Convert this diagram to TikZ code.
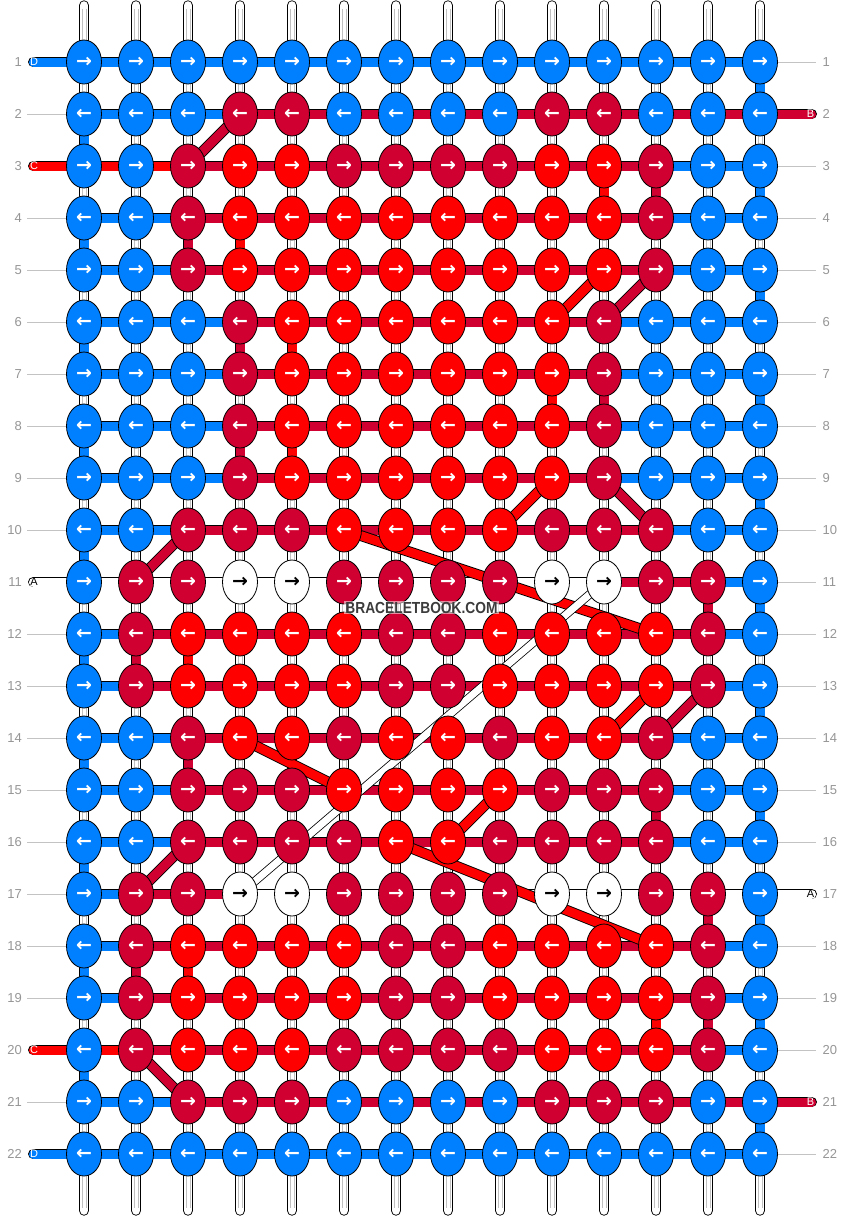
\documentclass[tikz,border=0pt]{standalone}
\usepackage{fontspec}
\setmainfont{Liberation Sans}
\newfontfamily\arrowfont{DejaVu Sans}
\usetikzlibrary{shapes.geometric}
\definecolor{colB}{RGB}{0,128,255}
\definecolor{colR}{RGB}{255,0,0}
\definecolor{colC}{RGB}{208,0,48}
\definecolor{colW}{RGB}{255,255,255}
\colorlet{colBtxt}{white}
\colorlet{colRtxt}{white}
\colorlet{colCtxt}{white}
\colorlet{colWtxt}{black}
\definecolor{lblgray}{RGB}{150,150,150}
\definecolor{linegray}{RGB}{195,195,195}
\definecolor{wmtext}{RGB}{60,60,60}
\pgfdeclarelayer{paper}
\pgfdeclarelayer{bg}
\pgfdeclarelayer{mid}
\pgfsetlayers{paper,bg,mid,main}
\newcommand\rarr{{\arrowfont\bfseries\fontsize{19}{19}\selectfont →}}
\newcommand\larr{{\arrowfont\bfseries\fontsize{19}{19}\selectfont ←}}
\tikzset{
  knot/.style={ellipse, draw=black, line width=0.8pt, fill=#1, minimum width=35pt, minimum height=44pt, inner sep=0pt},
  seg/.style={draw=black, line width=0.9pt, double=#1, double distance=9pt},
  thinseg/.style={draw=black, line width=0.8pt, double=#1, double distance=7pt},
  stub/.style={seg=#1, line cap=round},
  tube/.style={draw=black, line width=0.9pt, double=white, double distance=8.6pt, line cap=round},
  tubeline/.style={draw=black!25, line width=0.6pt},
  grayline/.style={draw=linegray, line width=0.9pt},
  rowlbl/.style={text=lblgray, font=\fontsize{13}{13}\selectfont, inner sep=0pt},
  stubtxt/.style={font=\fontsize{11}{11}\selectfont, inner sep=0pt},
  wm/.style={fill=white, fill opacity=0.55, text opacity=1, text=wmtext, font=\bfseries\fontsize{16}{16}\selectfont, inner sep=1.2pt, xscale=0.86}
}
\begin{document}
\begin{tikzpicture}[x=1pt,y=-1pt]
\useasboundingbox (0,0) rectangle (844,1216);
\begin{pgfonlayer}{paper}
\fill[white] (0,0) rectangle (844,1216);
\end{pgfonlayer}
% knots
\foreach \row [count=\r] in {%
{B,B,B,B,B,B,B,B,B,B,B,B,B,B},%
{B,B,B,C,C,B,B,B,B,C,C,B,B,B},%
{B,B,C,R,R,C,C,C,C,R,R,C,B,B},%
{B,B,C,R,R,R,R,R,R,R,R,C,B,B},%
{B,B,C,R,R,R,R,R,R,R,R,C,B,B},%
{B,B,B,C,R,R,R,R,R,R,C,B,B,B},%
{B,B,B,C,R,R,R,R,R,R,C,B,B,B},%
{B,B,B,C,R,R,R,R,R,R,C,B,B,B},%
{B,B,B,C,R,R,R,R,R,R,C,B,B,B},%
{B,B,C,C,C,R,R,R,R,C,C,C,B,B},%
{B,C,C,W,W,C,C,C,C,W,W,C,C,B},%
{B,C,R,R,R,R,C,C,R,R,R,R,C,B},%
{B,C,R,R,R,R,C,C,R,R,R,R,C,B},%
{B,B,C,R,R,C,R,R,C,R,R,C,B,B},%
{B,B,C,C,C,R,R,R,R,C,C,C,B,B},%
{B,B,C,C,C,C,R,R,C,C,C,C,B,B},%
{B,C,C,W,W,C,C,C,C,W,W,C,C,B},%
{B,C,R,R,R,R,C,C,R,R,R,R,C,B},%
{B,C,R,R,R,R,C,C,R,R,R,R,C,B},%
{B,C,R,R,R,C,C,C,C,R,R,R,C,B},%
{B,B,C,C,C,B,B,B,B,C,C,C,B,B},%
{B,B,B,B,B,B,B,B,B,B,B,B,B,B}}{%
  \foreach \k [count=\c] in \row {%
    \node[knot=col\k, text=col\k txt] (k-\r-\c) at ({84+52*(\c-1)},{62+52*(\r-1)}) {\ifodd\r\relax\rarr\else\larr\fi};
  }
}
% warp tubes
\begin{pgfonlayer}{bg}
\foreach \c in {1,...,14} {
  \coordinate (top-\c) at ({84+52*(\c-1)},5.5);
  \coordinate (bot-\c) at ({84+52*(\c-1)},1210.5);
  \draw[tube] (top-\c) -- (bot-\c);
  \draw[tubeline] ([xshift=-1.8pt,yshift=-3pt]top-\c) -- ([xshift=-1.8pt,yshift=3pt]bot-\c);
  \draw[tubeline] ([xshift=1.8pt,yshift=-3pt]top-\c) -- ([xshift=1.8pt,yshift=3pt]bot-\c);
}
% gray label lines
\foreach \r in {2,4,5,6,7,8,9,10,12,13,14,15,16,17,18,19,21} {
  \coordinate (gl-\r) at (27,{62+52*(\r-1)});
  \draw[grayline] (gl-\r) -- (k-\r-1.center);
}
\foreach \r in {1,3,4,5,6,7,8,9,10,11,12,13,14,15,16,18,19,20,22} {
  \coordinate (gr-\r) at (816,{62+52*(\r-1)});
  \draw[grayline] (k-\r-14.center) -- (gr-\r);
}
% horizontal strings
\foreach \row [count=\r] in {%
{B,B,B,B,B,B,B,B,B,B,B,B,B},%
{B,B,B,C,C,C,C,C,C,C,C,C,C},%
{R,R,C,C,C,C,C,C,C,C,C,B,B},%
{B,B,C,C,C,C,C,C,C,C,C,B,B},%
{B,B,C,C,C,C,C,C,C,C,C,B,B},%
{B,B,B,C,C,C,C,C,C,C,B,B,B},%
{B,B,B,C,C,C,C,C,C,C,B,B,B},%
{B,B,B,C,C,C,C,C,C,C,B,B,B},%
{B,B,B,C,C,C,C,C,C,C,B,B,B},%
{B,B,C,C,C,C,C,C,C,C,C,B,B},%
{W,W,W,W,W,W,W,W,W,W,C,C,B},%
{B,C,C,C,C,C,C,C,C,C,C,C,B},%
{B,C,C,C,C,C,C,C,C,C,C,C,B},%
{B,B,C,C,C,C,C,C,C,C,C,B,B},%
{B,B,C,C,C,C,C,C,C,C,C,B,B},%
{B,B,C,C,C,C,C,C,C,C,C,B,B},%
{B,C,C,W,W,W,W,W,W,W,W,W,W},%
{B,C,C,C,C,C,C,C,C,C,C,C,B},%
{B,C,C,C,C,C,C,C,C,C,C,C,B},%
{R,C,C,C,C,C,C,C,C,C,C,C,B},%
{B,B,C,C,C,C,C,C,C,C,C,C,C},%
{B,B,B,B,B,B,B,B,B,B,B,B,B}}{%
  \foreach \s [count=\c] in \row {%
    \pgfmathtruncatemacro\cn{\c+1}
    \draw[seg=col\s] (k-\r-\c.center) -- (k-\r-\cn.center);
  }
}
% vertical coloured pieces
\foreach \r/\c/\s in {1/14/B,2/1/B,3/11/R,3/12/C,3/14/B,4/1/B,4/3/C,4/4/R,5/14/B,6/1/B,6/4/C,6/5/R,7/10/R,7/11/C,7/14/B,8/1/B,8/4/C,8/5/R,9/14/B,10/1/B,11/13/C,11/14/B,12/1/B,12/2/C,12/3/R,13/14/B,14/1/B,14/3/C,15/12/C,15/14/B,16/1/B,17/13/C,17/14/B,18/1/B,18/2/C,18/3/R,19/12/R,19/13/C,19/14/B,20/1/B,21/14/B} {
  \pgfmathtruncatemacro\rn{\r+1}
  \draw[seg=col\s] (k-\r-\c.center) -- (k-\rn-\c.center);
}
% end stubs
\foreach \r/\lt/\s in {1/D/B,3/C/R,11/A/W,20/C/R,22/D/B} {
  \coordinate (sl-\r) at (33.4,{62+52*(\r-1)});
  \draw[stub=col\s] (sl-\r) -- (k-\r-1.center);
}
\foreach \r/\lt/\s in {2/B/C,17/A/W,21/B/C} {
  \coordinate (sr-\r) at (811.6,{62+52*(\r-1)});
  \draw[stub=col\s] (k-\r-14.center) -- (sr-\r);
}
\end{pgfonlayer}
% diagonals
\begin{pgfonlayer}{mid}
\foreach \ra/\ca/\rb/\cb in {5/11/6/10,9/10/10/9,10/6/12/12,13/12/14/11,14/4/15/6,15/9/16/8,16/7/18/12} {
  \draw[seg=colR] (k-\ra-\ca.center) -- (k-\rb-\cb.center);
}
\foreach \ra/\ca/\rb/\cb in {2/4/3/3,5/12/6/11,9/11/10/12,10/3/11/2,13/13/14/12,16/3/17/2,20/2/21/3} {
  \draw[seg=colC] (k-\ra-\ca.center) -- (k-\rb-\cb.center);
}
\draw[thinseg=colW] (k-11-11.center) -- (k-17-4.center);
\end{pgfonlayer}
% stub letters
\foreach \r/\lt/\s in {1/D/B,3/C/R,11/A/W,20/C/R,22/D/B} {
  \node[stubtxt, text=col\s txt] (slt-\r) at (34,{62+52*(\r-1)}) {\lt};
}
\foreach \r/\lt/\s in {2/B/C,17/A/W,21/B/C} {
  \node[stubtxt, text=col\s txt] (srt-\r) at (810.5,{62+52*(\r-1)}) {\lt};
}
% row numbers
\foreach \r in {1,...,22} {
  \node[rowlbl, anchor=east] (ln-\r) at (22,{62+52*(\r-1)}) {\r};
  \node[rowlbl, anchor=west] (rn-\r) at (822.5,{62+52*(\r-1)}) {\r};
}
% watermark
\node[wm] (wmark) at (421.5,607.5) {BRACELETBOOK.COM};
\end{tikzpicture}
\end{document}
